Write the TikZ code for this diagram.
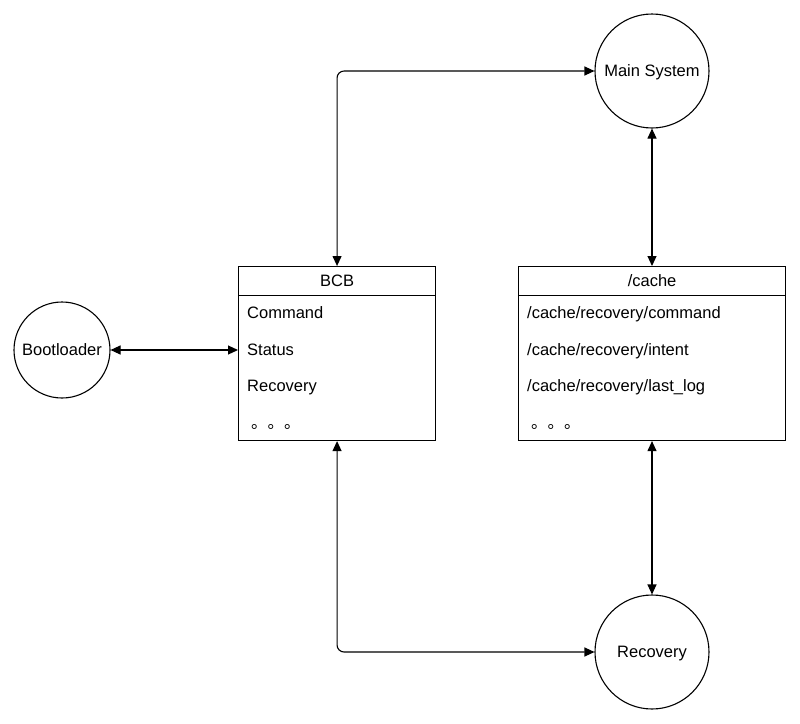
\documentclass[tikz,border=0pt]{standalone}
\usepackage{fontspec}
\setmainfont{Liberation Sans}
\newfontfamily\cjk{Noto Sans CJK SC}
\usetikzlibrary{arrows.meta}
\begin{document}
\begin{tikzpicture}[x=1pt,y=-1pt,
  every node/.style={font=\fontsize{16.5}{19}\selectfont, inner sep=0pt},
  txt/.style={text height=11.8pt, text depth=0pt},
  circ/.style={draw, circle, line width=1.1pt, txt},
  frame/.style={draw, line width=1.1pt, txt},
  conn/.style={line width=1.1pt, {Triangle[length=10pt,width=9pt]}-{Triangle[length=10pt,width=9pt]}, rounded corners=7pt},
  row/.style={anchor=west, txt}]
\useasboundingbox (0,0) rectangle (800,723);
% circles
\node[circ, minimum size=96pt] (boot) at (62,350) {Bootloader};
\node[circ, minimum size=114pt] (main) at (652,71) {Main System};
\node[circ, minimum size=114pt] (rec) at (652,652) {Recovery};
% BCB box
\node[frame, minimum width=197pt, minimum height=174pt, anchor=north west] (bcb) at (238,266) {};
\node[frame, minimum width=197pt, minimum height=29pt, anchor=north west] (bcbh) at (238,266) {BCB};
\node[row] (b1) at (247,313) {Command};
\node[row] (b2) at (247,350) {Status};
\node[row] (b3) at (247,386) {Recovery};
\node[row] (b4) at (251,423) {\cjk 。。。};
% cache box
\node[frame, minimum width=267pt, minimum height=174pt, anchor=north west] (cache) at (518,266) {};
\node[frame, minimum width=267pt, minimum height=29pt, anchor=north west] (cacheh) at (518,266) {/cache};
\node[row] (c1) at (527,313) {/cache/recovery/command};
\node[row] (c2) at (527,350) {/cache/recovery/intent};
\node[row] (c3) at (527,386) {/cache/recovery/last\_log};
\node[row] (c4) at (531,423) {\cjk 。。。};
% connectors
\draw[conn] (boot.east) -- (bcb.west |- boot.east);
\draw[conn] (bcb.north) |- (main.west);
\draw[conn] (main.south) -- (cache.north -| main.south);
\draw[conn] (cache.south -| rec.north) -- (rec.north);
\draw[conn] (bcb.south) |- (rec.west);
\end{tikzpicture}
\end{document}
